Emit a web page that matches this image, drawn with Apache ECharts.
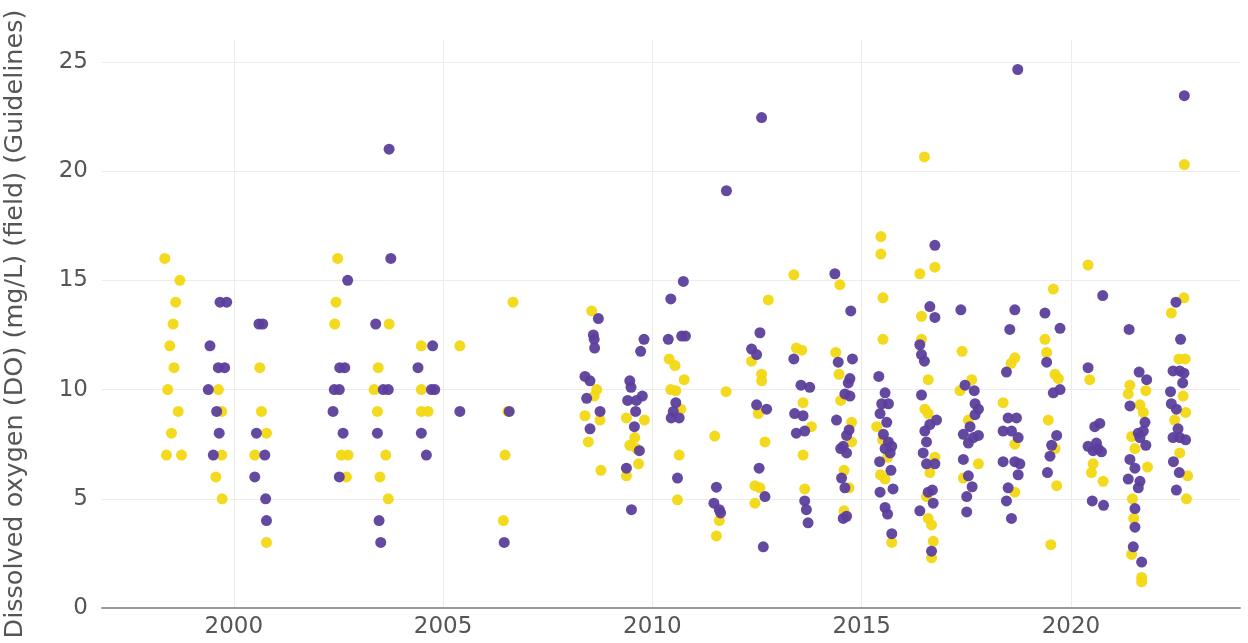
<!DOCTYPE html>
<html>
<head>
<meta charset="utf-8">
<script src="https://cdn.jsdelivr.net/npm/echarts@6/dist/echarts.min.js"></script>
<style>html,body{margin:0;padding:0;background:#fff;}#chart{width:1248px;height:643px;}</style>
</head>
<body>
<div id="chart"></div>
<script>
const yTitle = 'Dissolved oxygen (DO) (mg/L) (field) (Guidelines)';
const xTicks = [2000, 2005, 2010, 2015, 2020];
const yTicks = [0, 5, 10, 15, 20, 25];

// [decimal year, DO mg/L]
const yellowPoints = [
  [1998.35,16],[1998.71,15],[1998.61,14],[1998.55,13],[1998.47,12],[1998.57,11],[1998.42,10],[1998.67,9],[1998.51,8],[1998.39,7],[1998.75,7],
  [1999.63,10],[1999.71,9],[1999.71,7],[1999.57,6],[1999.72,5],
  [2000.62,11],[2000.66,9],[2000.78,8],[2000.50,7],[2000.78,3],
  [2002.48,16],[2002.44,14],[2002.41,13],[2002.57,7],[2002.73,7],[2002.69,6],
  [2003.71,13],[2003.45,11],[2003.35,10],[2003.43,9],[2003.63,7],[2003.49,6],[2003.69,5],
  [2004.48,12],[2005.40,12],[2004.48,10],[2004.48,9],[2004.64,9],
  [2006.67,14],[2006.55,9],[2006.48,7],[2006.44,4],
  [2008.55,13.6],[2008.67,10.0],[2008.61,9.7],[2008.39,8.8],[2008.75,8.6],[2008.47,7.6],[2008.77,6.3],
  [2009.38,8.7],[2009.81,8.6],[2009.58,7.8],[2009.46,7.45],[2009.62,7.3],[2009.67,6.6],[2009.38,6.05],
  [2010.40,11.4],[2010.54,11.1],[2010.76,10.45],[2010.44,10.0],[2010.56,9.95],[2010.68,9.1],[2010.64,7.0],[2010.60,4.95],
  [2011.76,9.9],[2011.49,7.87],[2011.60,4.0],[2011.53,3.3],
  [2012.77,14.1],[2012.37,11.3],[2012.61,10.7],[2012.61,10.4],[2012.53,8.9],[2012.69,7.6],[2012.45,5.6],[2012.57,5.5],[2012.45,4.8],
  [2013.38,15.25],[2013.44,11.9],[2013.57,11.8],[2013.60,9.4],[2013.80,8.3],[2013.60,7.0],[2013.64,5.45],
  [2014.48,14.8],[2014.38,11.7],[2014.46,10.7],[2014.50,9.5],[2014.76,8.5],[2014.76,7.6],[2014.58,6.3],[2014.70,5.5],[2014.58,4.45],
  [2015.46,17.0],[2015.46,16.2],[2015.51,14.2],[2015.51,12.3],[2015.36,8.3],[2015.50,7.7],[2015.62,6.9],[2015.45,6.1],[2015.56,5.9],[2015.72,3.0],
  [2016.50,20.65],[2016.75,15.6],[2016.39,15.3],[2016.43,13.35],[2016.43,12.3],[2016.59,10.45],[2016.51,9.1],[2016.59,8.9],[2016.75,6.9],[2016.63,6.2],[2016.55,5.1],[2016.59,4.1],[2016.67,3.8],[2016.71,3.05],[2016.67,2.3],
  [2017.40,11.75],[2017.35,9.95],[2017.63,10.45],[2017.55,8.6],[2017.79,6.6],[2017.43,5.95],
  [2018.66,11.45],[2018.57,11.2],[2018.38,9.4],[2018.66,7.5],[2018.66,5.3],
  [2019.58,14.6],[2019.38,12.3],[2019.42,11.7],[2019.62,10.7],[2019.70,10.5],[2019.46,8.6],[2019.62,7.3],[2019.66,5.6],[2019.52,2.9],
  [2020.41,15.7],[2020.45,10.45],[2020.53,6.6],[2020.49,6.2],[2020.77,5.8],
  [2021.41,10.2],[2021.37,9.8],[2021.79,9.95],[2021.65,9.3],[2021.73,8.95],[2021.45,7.85],[2021.53,7.3],[2021.83,6.45],[2021.47,5.0],[2021.50,4.1],[2021.45,2.45],[2021.69,1.4],[2021.69,1.2],
  [2022.71,20.3],[2022.70,14.2],[2022.40,13.5],[2022.58,11.4],[2022.73,11.4],[2022.68,9.7],[2022.74,8.95],[2022.48,8.6],[2022.60,7.1],[2022.79,6.05],[2022.76,5.0]
];

const purplePoints = [
  [1999.67,14],[1999.83,14],[1999.43,12],[1999.63,11],[1999.78,11],[1999.39,10],[1999.59,9],[1999.65,8],[1999.51,7],
  [2000.60,13],[2000.69,13],[2000.54,8],[2000.74,7],[2000.50,6],[2000.76,5],[2000.78,4],
  [2002.72,15],[2002.53,11],[2002.65,11],[2002.40,10],[2002.52,10],[2002.37,9],[2002.61,8],[2002.52,6],
  [2003.71,21],[2003.75,16],[2003.39,13],[2003.57,10],[2003.69,10],[2003.43,8],[2003.47,4],[2003.51,3],
  [2004.75,12],[2004.40,11],[2004.72,10],[2004.80,10],[2005.40,9],[2004.48,8],[2004.60,7],
  [2006.58,9],[2006.46,3],
  [2008.71,13.25],[2008.59,12.5],[2008.61,12.3],[2008.62,11.9],[2008.39,10.6],[2008.51,10.4],[2008.43,9.6],[2008.75,9.0],[2008.51,8.2],
  [2009.80,12.3],[2009.72,11.75],[2009.46,10.4],[2009.49,10.1],[2009.41,9.5],[2009.62,9.5],[2009.76,9.7],[2009.60,9.0],[2009.57,8.3],[2009.69,7.2],[2009.38,6.4],[2009.50,4.5],
  [2010.74,14.95],[2010.44,14.15],[2010.38,12.3],[2010.70,12.45],[2010.79,12.45],[2010.56,9.4],[2010.50,9.0],[2010.45,8.7],[2010.64,8.7],[2010.60,5.95],
  [2011.77,19.1],[2011.53,5.53],[2011.47,4.8],[2011.60,4.5],[2011.63,4.35],
  [2012.61,22.45],[2012.57,12.6],[2012.37,11.85],[2012.49,11.6],[2012.49,9.3],[2012.73,9.1],[2012.55,6.4],[2012.69,5.1],[2012.65,2.8],
  [2013.38,11.4],[2013.55,10.2],[2013.76,10.1],[2013.40,8.9],[2013.60,8.8],[2013.44,8.0],[2013.64,8.1],[2013.64,4.9],[2013.68,4.5],[2013.72,3.9],
  [2014.36,15.3],[2014.74,13.6],[2014.44,11.25],[2014.78,11.4],[2014.72,10.5],[2014.68,10.3],[2014.60,9.8],[2014.72,9.7],[2014.40,8.6],[2014.70,8.15],[2014.64,7.9],[2014.56,7.4],[2014.64,7.1],[2014.50,7.3],[2014.52,5.95],[2014.60,5.5],[2014.56,4.1],[2014.64,4.2],
  [2015.41,10.6],[2015.56,9.85],[2015.64,9.35],[2015.48,9.35],[2015.44,8.9],[2015.60,8.5],[2015.52,7.95],[2015.64,7.6],[2015.72,7.4],[2015.56,7.3],[2015.68,7.1],[2015.43,6.7],[2015.70,6.3],[2015.75,5.45],[2015.44,5.3],[2015.56,4.6],[2015.62,4.3],[2015.72,3.4],
  [2016.75,16.6],[2016.63,13.8],[2016.75,13.3],[2016.39,12.05],[2016.43,11.6],[2016.50,11.3],[2016.43,9.75],[2016.79,8.6],[2016.63,8.4],[2016.51,8.1],[2016.55,7.6],[2016.47,7.1],[2016.55,6.6],[2016.75,6.6],[2016.59,5.3],[2016.69,5.4],[2016.71,4.8],[2016.39,4.45],[2016.67,2.6],
  [2017.37,13.65],[2017.47,10.2],[2017.69,9.95],[2017.71,9.35],[2017.79,9.1],[2017.71,8.85],[2017.59,8.3],[2017.43,7.95],[2017.67,7.8],[2017.55,7.55],[2017.79,7.9],[2017.43,6.8],[2017.55,6.05],[2017.64,5.55],[2017.51,5.1],[2017.51,4.4],
  [2018.73,24.65],[2018.66,13.65],[2018.54,12.75],[2018.46,10.8],[2018.50,8.7],[2018.70,8.7],[2018.38,8.1],[2018.58,8.1],[2018.74,7.8],[2018.38,6.7],[2018.66,6.7],[2018.78,6.6],[2018.74,6.1],[2018.50,5.5],[2018.46,4.9],[2018.58,4.1],
  [2019.38,13.5],[2019.74,12.8],[2019.42,11.25],[2019.58,9.85],[2019.74,10.0],[2019.66,7.9],[2019.54,7.45],[2019.50,6.95],[2019.44,6.2],
  [2020.76,14.3],[2020.41,11.0],[2020.57,8.3],[2020.69,8.45],[2020.41,7.4],[2020.53,7.2],[2020.65,7.3],[2020.73,7.15],[2020.61,7.55],[2020.51,4.9],[2020.78,4.7],
  [2021.39,12.75],[2021.63,10.8],[2021.81,10.45],[2021.41,9.25],[2021.77,8.5],[2021.61,8.0],[2021.73,8.1],[2021.65,7.8],[2021.79,7.45],[2021.41,6.8],[2021.53,6.4],[2021.37,5.9],[2021.65,5.8],[2021.61,5.5],[2021.53,4.55],[2021.53,3.7],[2021.49,2.8],[2021.69,2.1],
  [2022.71,23.45],[2022.51,14.0],[2022.62,12.3],[2022.44,10.85],[2022.60,10.85],[2022.70,10.75],[2022.67,10.3],[2022.38,9.9],[2022.40,9.35],[2022.52,9.1],[2022.56,8.2],[2022.44,7.8],[2022.60,7.8],[2022.74,7.7],[2022.45,6.7],[2022.59,6.2],[2022.52,5.4]
];

const font = 'DejaVu Sans';
const chart = echarts.init(document.getElementById('chart'), null, {renderer: 'canvas'});
chart.setOption({
  animation: false,
  backgroundColor: '#ffffff',
  grid: {left: 102, right: 8, top: 40, bottom: 35, containLabel: false, outerBoundsMode: 'none'},
  xAxis: {
    type: 'value', min: 1996.85, max: 2024.04,
    axisLine: {show: true, lineStyle: {color: '#9a9a9a', width: 2}},
    axisTick: {show: false, customValues: xTicks},
    axisLabel: {customValues: xTicks, formatter: v => String(v), color: '#555', fontFamily: font, fontSize: 23, margin: 8},
    splitLine: {show: true, lineStyle: {color: '#ececec', width: 1}}
  },
  yAxis: {
    type: 'value', min: 0, max: 26,
    name: yTitle, nameLocation: 'middle', nameGap: 74, nameRotate: 90,
    nameTextStyle: {color: '#555', fontFamily: font, fontSize: 25.5},
    axisLine: {show: false},
    axisTick: {show: false, customValues: yTicks},
    axisLabel: {customValues: yTicks, color: '#555', fontFamily: font, fontSize: 23, margin: 14},
    splitLine: {show: true, lineStyle: {color: '#ececec', width: 1}}
  },
  series: [
    {name: 'Yellow', type: 'scatter', data: yellowPoints, symbolSize: 11,
     itemStyle: {color: '#f2d813', opacity: 0.95}},
    {name: 'Purple', type: 'scatter', data: purplePoints, symbolSize: 11,
     itemStyle: {color: '#5c3f9c', opacity: 0.95}}
  ]
});
</script>
</body>
</html>
